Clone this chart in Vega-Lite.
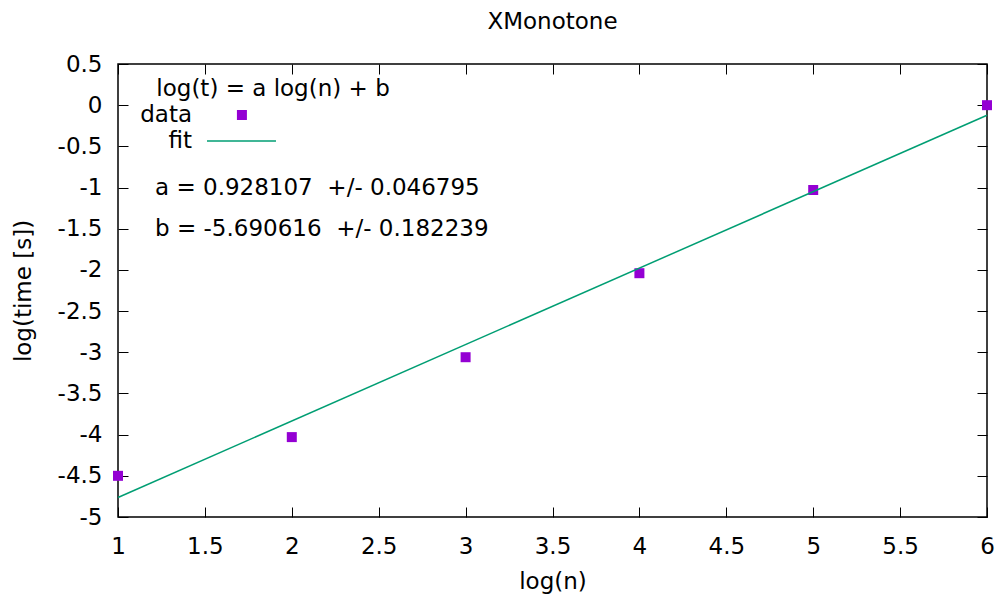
{
  "$schema": "https://vega.github.io/schema/vega-lite/v6.json",
  "width": 869,
  "height": 453,
  "autosize": {"type": "none"},
  "padding": {"left": 118, "top": 64, "right": 14, "bottom": 81},
  "background": "#ffffff",
  "title": {"text": "XMonotone", "fontSize": 23, "font": "DejaVu Sans", "fontWeight": "normal", "color": "#000000", "offset": 19, "anchor": "middle"},
  "config": {
    "font": "DejaVu Sans",
    "view": {"stroke": "#000000", "strokeWidth": 1.5},
    "axis": {
      "grid": false,
      "domain": false,
      "tickColor": "#000000",
      "tickWidth": 1,
      "tickSize": -10,
      "labelColor": "#000000",
      "labelFont": "DejaVu Sans",
      "labelFontSize": 23,
      "titleFont": "DejaVu Sans",
      "titleFontSize": 23,
      "titleFontWeight": "normal",
      "titleColor": "#000000",
      "labelFlush": false,
      "labelOverlap": false
    }
  },
  "datasets": {
    "measurements": [
      {"logn": 1, "logt": -4.5},
      {"logn": 2, "logt": -4.03},
      {"logn": 3, "logt": -3.06},
      {"logn": 4, "logt": -2.04},
      {"logn": 5, "logt": -1.03},
      {"logn": 6, "logt": 0.0}
    ],
    "fit": [
      {"logn": 1, "logt": -4.762509},
      {"logn": 6, "logt": -0.121974}
    ],
    "legendTitle": [{"logn": 1.892, "logt": 0.196, "label": "log(t) = a log(n) + b"}],
    "legendLabels": [
      {"logn": 1.426, "logt": -0.119, "label": "data"},
      {"logn": 1.426, "logt": -0.435, "label": "fit"}
    ],
    "legendMarker": [{"logn": 1.713, "logt": -0.119}],
    "legendLine": [{"logn": 1.512, "logn2": 1.909, "logt": -0.435}],
    "params": [
      {"logn": 1.213, "logt": -1.006, "label": "a = 0.928107 \u00a0+/- 0.046795"},
      {"logn": 1.213, "logt": -1.503, "label": "b = -5.690616 \u00a0+/- 0.182239"}
    ]
  },
  "layer": [
    {
      "data": {"name": "measurements"},
      "mark": {"type": "point", "shape": "square", "filled": true, "size": 100, "color": "#9400d3", "opacity": 1, "clip": false},
      "encoding": {
        "x": {"field": "logn", "type": "quantitative",
          "scale": {"domain": [1, 6], "nice": false, "zero": false},
          "axis": {"title": "log(n)", "orient": "bottom", "values": [1, 1.5, 2, 2.5, 3, 3.5, 4, 4.5, 5, 5.5, 6], "labelPadding": 28, "titlePadding": 12,
            "labelExpr": "datum.value < 0 ? '-' + format(-datum.value, '~g') : format(datum.value, '~g')"}},
        "y": {"field": "logt", "type": "quantitative",
          "scale": {"domain": [-5, 0.5], "nice": false, "zero": false},
          "axis": {"title": "log(time [s])", "orient": "left", "values": [-5, -4.5, -4, -3.5, -3, -2.5, -2, -1.5, -1, -0.5, 0, 0.5], "labelPadding": 26, "titlePadding": 22,
            "labelExpr": "datum.value < 0 ? '-' + format(-datum.value, '~g') : format(datum.value, '~g')"}}
      }
    },
    {
      "data": {"name": "fit"},
      "mark": {"type": "line", "color": "#009e73", "strokeWidth": 1.5},
      "encoding": {
        "x": {"field": "logn", "type": "quantitative",
          "scale": {"domain": [1, 6], "nice": false, "zero": false},
          "axis": {"title": null, "orient": "top", "labels": false, "values": [1, 1.5, 2, 2.5, 3, 3.5, 4, 4.5, 5, 5.5, 6]}},
        "y": {"field": "logt", "type": "quantitative",
          "scale": {"domain": [-5, 0.5], "nice": false, "zero": false},
          "axis": {"title": null, "orient": "right", "labels": false, "values": [-5, -4.5, -4, -3.5, -3, -2.5, -2, -1.5, -1, -0.5, 0, 0.5]}}
      }
    },
    {
      "data": {"name": "legendTitle"},
      "mark": {"type": "text", "align": "center", "baseline": "middle", "fontSize": 23, "font": "DejaVu Sans", "color": "#000000"},
      "encoding": {
        "x": {"field": "logn", "type": "quantitative", "scale": {"domain": [1, 6], "nice": false, "zero": false}, "axis": null},
        "y": {"field": "logt", "type": "quantitative", "scale": {"domain": [-5, 0.5], "nice": false, "zero": false}, "axis": null},
        "text": {"field": "label"}
      }
    },
    {
      "data": {"name": "legendLabels"},
      "mark": {"type": "text", "align": "right", "baseline": "middle", "fontSize": 23, "font": "DejaVu Sans", "color": "#000000"},
      "encoding": {
        "x": {"field": "logn", "type": "quantitative", "scale": {"domain": [1, 6], "nice": false, "zero": false}, "axis": null},
        "y": {"field": "logt", "type": "quantitative", "scale": {"domain": [-5, 0.5], "nice": false, "zero": false}, "axis": null},
        "text": {"field": "label"}
      }
    },
    {
      "data": {"name": "legendMarker"},
      "mark": {"type": "point", "shape": "square", "filled": true, "size": 100, "color": "#9400d3", "opacity": 1},
      "encoding": {
        "x": {"field": "logn", "type": "quantitative", "scale": {"domain": [1, 6], "nice": false, "zero": false}, "axis": null},
        "y": {"field": "logt", "type": "quantitative", "scale": {"domain": [-5, 0.5], "nice": false, "zero": false}, "axis": null}
      }
    },
    {
      "data": {"name": "legendLine"},
      "mark": {"type": "rule", "color": "#009e73", "strokeWidth": 1.5},
      "encoding": {
        "x": {"field": "logn", "type": "quantitative", "scale": {"domain": [1, 6], "nice": false, "zero": false}, "axis": null},
        "x2": {"field": "logn2"},
        "y": {"field": "logt", "type": "quantitative", "scale": {"domain": [-5, 0.5], "nice": false, "zero": false}, "axis": null}
      }
    },
    {
      "data": {"name": "params"},
      "mark": {"type": "text", "align": "left", "baseline": "middle", "fontSize": 23, "font": "DejaVu Sans", "color": "#000000"},
      "encoding": {
        "x": {"field": "logn", "type": "quantitative", "scale": {"domain": [1, 6], "nice": false, "zero": false}, "axis": null},
        "y": {"field": "logt", "type": "quantitative", "scale": {"domain": [-5, 0.5], "nice": false, "zero": false}, "axis": null},
        "text": {"field": "label"}
      }
    }
  ],
  "resolve": {"axis": {"x": "independent", "y": "independent"}}
}
